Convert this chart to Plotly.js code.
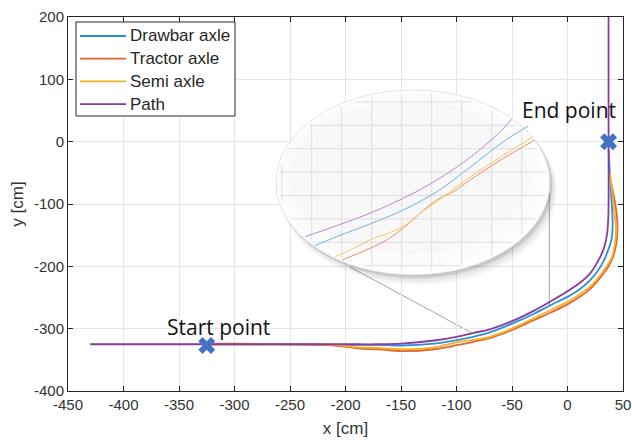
<!DOCTYPE html>
<html><head><meta charset="utf-8">
<script src="https://cdn.plot.ly/plotly-3.0.1.min.js"></script>
<style>html,body{margin:0;padding:0;background:#fff}#chart{width:632px;height:440px}</style>
</head><body><div id="chart"></div>
<script>
// ---- main data (cm) ----
const pathX = [-430, -325, -250, -200, -170, -150, -120, -100, -85, -70, -50, -30, -15, 0, 10, 20, 28, 33, 35.5, 36.8, 37, 37];
const pathY = [-325, -325, -325, -325, -325, -324, -319, -313, -307, -301, -288, -271, -256, -240, -228, -212, -190, -170, -150, -120, 0, 200];

const drawbarX = [-325, -250, -200, -170, -150, -120, -100, -85, -70, -50, -30, -15, 0, 10, 20, 27, 33, 37, 39.5, 40.6, 40.5, 39.5, 38.5, 37.5, 37];
const drawbarY = [-325, -325, -326, -326, -327, -324, -318.5, -313, -306, -292, -276, -262, -249, -238, -223, -208, -190, -172, -158, -140, -120, -90, -60, -30, -12];

const tractorX = [-325, -300, -250, -210, -187, -170, -150, -120, -100, -85, -70, -50, -30, -15, 0, 10, 20, 30, 37, 41, 44, 45, 44.5, 43, 41, 39];
const tractorY = [-324, -324, -325, -327, -332, -333, -336, -333, -326.5, -321, -315, -302, -286, -274, -261, -250, -237, -217, -200, -185, -163, -142, -120, -100, -80, -65];

const semiX = [-325, -250, -210, -187, -170, -150, -120, -100, -85, -70, -50, -30, -15, 0, 10, 20, 30, 36, 40, 42.8, 43.7, 43, 41.5, 40, 38];
const semiY = [-325, -325, -326, -330, -331, -333, -330, -322, -318, -313, -300, -283, -270, -257, -246, -233, -213, -198, -185, -163, -142, -125, -100, -75, -50];

const pointX = [-325, 37];
const pointY = [-327, 0];
const pointLabels = ['Start point', 'End point'];

const xTickVals = [-450, -400, -350, -300, -250, -200, -150, -100, -50, 0, 50];
const xTickText = ['-450', '-400', '-350', '-300', '-250', '-200', '-150', '-100', '-50', '0', '50'];
const yTickVals = [-400, -300, -200, -100, 0, 100, 200];
const yTickText = ['-400', '-300', '-200', '-100', '0', '100', '200'];

// ---- magnified inset data (inset grid units) ----
const inPathX = [-0.22, 0.83, 1.94, 3.05, 4.17, 5.28, 6.17, 6.67];
const inPathY = [0.24, 0.71, 1.24, 1.88, 2.66, 3.63, 4.59, 5.26];
const inDrawX = [0.11, 0.83, 1.94, 3.05, 4.17, 5.28, 6.39, 7.22];
const inDrawY = [-0.15, 0.24, 0.78, 1.38, 2.16, 3.21, 4.30, 4.97];
const inSemiX = [0.78, 1.39, 1.94, 3.05, 3.61, 4.17, 5.28, 6.39, 7.39];
const inSemiY = [-0.62, -0.26, 0.10, 0.67, 1.24, 1.74, 2.78, 3.73, 4.51];
const inTracX = [1.0, 1.94, 2.5, 3.05, 3.61, 4.17, 4.72, 5.28, 6.39, 7.44];
const inTracY = [-0.76, -0.26, 0.10, 0.60, 1.24, 1.81, 2.16, 2.66, 3.59, 4.37];

const names = ['Drawbar axle', 'Tractor axle', 'Semi axle', 'Path'];
const colors = ['#2a90d8', '#e8612f', '#f0b328', '#8b3aa0'];
const insetColors = ['#68b4e8', '#f08a68', '#f5c95a', '#b888cc'];

// ---- layout geometry helpers ----
const W = 632, H = 440, ML = 68, MR = 9, MT = 17, MB = 49;
const PW = W - ML - MR, PH = H - MT - MB;
const px2paperX = p => (p - ML) / PW;
const py2paperY = p => (H - MB - p) / PH;
const X2 = p => (p - 311.7) / 30;
const Y2 = p => (242.3 - p) / 23.4;
const dom = {x0: 262, x1: 566, y0: 78, y1: 292};
const ell = {x0: 276, x1: 550, y0: 90, y1: 275};

const traces = [];
const mainX = [drawbarX, tractorX, semiX, pathX];
const mainY = [drawbarY, tractorY, semiY, pathY];
for (let i = 0; i < 4; i++) {
  traces.push({x: mainX[i], y: mainY[i], type: 'scatter', mode: 'lines', name: names[i], showlegend: false,
    line: {color: colors[i], width: 1.8, shape: 'spline', smoothing: 0.8}, xaxis: 'x', yaxis: 'y'});
}
traces.push({x: pointX, y: pointY, type: 'scatter', mode: 'markers', showlegend: false,
  marker: {symbol: 'x', size: 15, color: '#4472c4', line: {width: 0}}});
const inX = [inDrawX, inTracX, inSemiX, inPathX];
const inY = [inDrawY, inTracY, inSemiY, inPathY];
for (let i = 0; i < 4; i++) {
  traces.push({x: inX[i], y: inY[i], type: 'scatter', mode: 'lines', showlegend: false,
    line: {color: insetColors[i], width: 1, shape: 'spline', smoothing: 1}, xaxis: 'x2', yaxis: 'y2', hoverinfo: 'skip'});
}

// ---- lens shapes ----
const shapes = [];
shapes.push({type: 'line', xref: 'x', yref: 'y', x0: -196, y0: -201, x1: -85, y1: -308, layer: 'below', line: {color: '#8a8a8a', width: 0.8}});
shapes.push({type: 'line', xref: 'x', yref: 'y', x0: -16.4, y0: -82, x1: -16.4, y1: -262, layer: 'below', line: {color: '#8a8a8a', width: 0.8}});
function ellShape(dx, dy, grow, fill, line) {
  return {type: 'circle', xref: 'x2', yref: 'y2', layer: 'below',
    x0: X2(ell.x0 + dx - grow), x1: X2(ell.x1 + dx + grow),
    y0: Y2(ell.y1 + dy + grow), y1: Y2(ell.y0 + dy - grow),
    fillcolor: fill, line: line || {width: 0}};
}
shapes.push(ellShape(5, 8, 2, 'rgba(0,0,0,0.035)'));
shapes.push(ellShape(4, 6, 1, 'rgba(0,0,0,0.05)'));
shapes.push(ellShape(3, 4, 0, 'rgba(0,0,0,0.07)'));
shapes.push(ellShape(2, 2.5, 0, 'rgba(0,0,0,0.08)'));
shapes.push(ellShape(0, 0, 0, '#fefefe', {color: '#d0d0d0', width: 0.6}));
shapes.push(ellShape(-2, -2, -5, 'rgba(0,0,0,0.012)'));
shapes.push(ellShape(-4, -5, -16, 'rgba(0,0,0,0.01)'));
const cx = (ell.x0 + ell.x1) / 2, cy = (ell.y0 + ell.y1) / 2;
const ea = (ell.x1 - ell.x0) / 2 - 3, eb = (ell.y1 - ell.y0) / 2 - 3;
for (let k = -1; k <= 7; k++) {
  const p = 311.7 + 30 * k;
  const t = (p - cx) / ea;
  if (Math.abs(t) >= 1) continue;
  const h = eb * Math.sqrt(1 - t * t);
  shapes.push({type: 'line', xref: 'x2', yref: 'y2', layer: 'below', x0: k, x1: k,
    y0: Y2(cy + h), y1: Y2(cy - h), line: {color: '#dedede', width: 1}});
}
for (let k = -1; k <= 6; k++) {
  const p = 242.3 - 23.4 * k;
  const t = (p - cy) / eb;
  if (Math.abs(t) >= 1) continue;
  const w = ea * Math.sqrt(1 - t * t);
  shapes.push({type: 'line', xref: 'x2', yref: 'y2', layer: 'below', y0: k, y1: k,
    x0: X2(cx - w), x1: X2(cx + w), line: {color: '#dedede', width: 1}});
}

// ---- legend box (drawn as shapes + text) ----
const annotations = [
  {xref: 'x', yref: 'y', x: -314, y: -297, text: pointLabels[0], showarrow: false,
   font: {family: 'Open Sans, sans-serif', size: 21, color: '#111111'}},
  {xref: 'x', yref: 'y', x: 1.3, y: 51, text: pointLabels[1], showarrow: false,
   font: {family: 'Open Sans, sans-serif', size: 21, color: '#111111'}}
];
shapes.push({type: 'rect', xref: 'paper', yref: 'paper', layer: 'above',
  x0: px2paperX(76), x1: px2paperX(235), y0: py2paperY(116), y1: py2paperY(22),
  fillcolor: '#ffffff', line: {color: '#262626', width: 1}});
for (let i = 0; i < names.length; i++) {
  const yy = py2paperY(36 + 22.7 * i);
  shapes.push({type: 'line', xref: 'paper', yref: 'paper', layer: 'above',
    x0: px2paperX(80), x1: px2paperX(126), y0: yy, y1: yy, line: {color: colors[i], width: 1.8}});
  annotations.push({xref: 'paper', yref: 'paper', x: px2paperX(128), y: yy, xanchor: 'left', yanchor: 'middle',
    text: names[i], showarrow: false,
    font: {family: 'Liberation Sans, Arial, sans-serif', size: 17, color: '#262626'}});
}

const tickFont = {family: 'Liberation Sans, Arial, sans-serif', size: 15, color: '#333333'};
const titleFont = {family: 'Liberation Sans, Arial, sans-serif', size: 17, color: '#333333'};
const layout = {
  width: W, height: H,
  margin: {l: ML, r: MR, t: MT, b: MB, pad: 0},
  paper_bgcolor: '#ffffff', plot_bgcolor: 'rgba(0,0,0,0)',
  showlegend: false,
  xaxis: {range: [-450, 50], tickmode: 'array', tickvals: xTickVals, ticktext: xTickText,
    showgrid: true, gridcolor: '#e6e6e6', gridwidth: 1,
    zeroline: false, showline: true, linecolor: '#262626', linewidth: 1, mirror: 'ticks',
    ticks: 'inside', ticklen: 5, tickcolor: '#262626', tickfont: tickFont,
    title: {text: 'x [cm]', font: titleFont, standoff: 10},
    automargin: false, fixedrange: true},
  yaxis: {range: [-400, 200], tickmode: 'array', tickvals: yTickVals, ticktext: yTickText,
    showgrid: true, gridcolor: '#e6e6e6', gridwidth: 1,
    zeroline: false, showline: true, linecolor: '#262626', linewidth: 1, mirror: 'ticks',
    ticks: 'inside', ticklen: 5, tickcolor: '#262626', tickfont: tickFont,
    title: {text: 'y [cm]', font: titleFont, standoff: 6},
    automargin: false, fixedrange: true},
  xaxis2: {domain: [px2paperX(dom.x0), px2paperX(dom.x1)], range: [X2(dom.x0), X2(dom.x1)], anchor: 'y2',
    showgrid: false, zeroline: false, showline: false, showticklabels: false, ticks: '', fixedrange: true},
  yaxis2: {domain: [py2paperY(dom.y1), py2paperY(dom.y0)], range: [Y2(dom.y1), Y2(dom.y0)], anchor: 'x2',
    showgrid: false, zeroline: false, showline: false, showticklabels: false, ticks: '', fixedrange: true},
  shapes: shapes,
  annotations: annotations
};
Plotly.newPlot('chart', traces, layout, {displayModeBar: false, staticPlot: true});
</script>
</body></html>
